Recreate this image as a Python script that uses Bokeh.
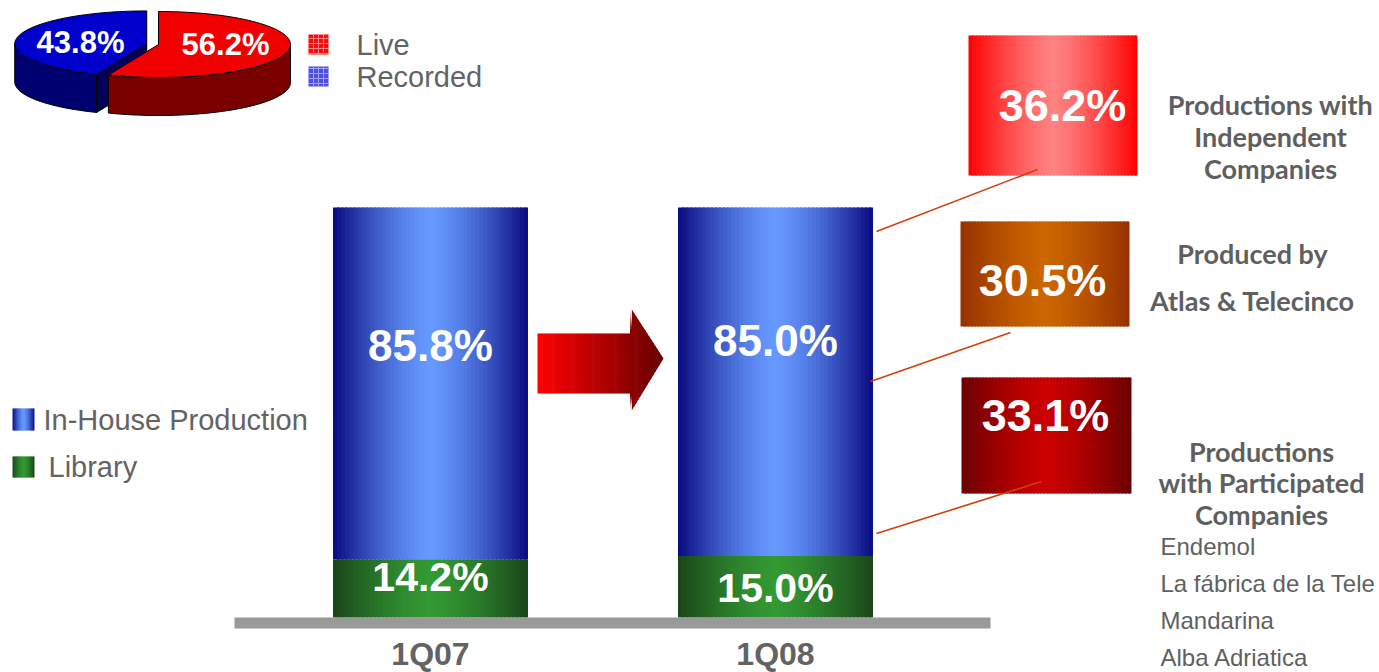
import math
from bokeh.plotting import figure
from bokeh.models import Range1d
from bokeh.core.properties import value
from bokeh.embed import file_html
from bokeh.resources import INLINE

# ---------------- data ----------------
quarters = ["1Q07", "1Q08"]
in_house = [85.8, 85.0]
library = [14.2, 15.0]
series_names = ["In-House Production", "Library"]

pie_labels = ["Live", "Recorded"]
pie_values = [56.2, 43.8]

split_values = [36.2, 30.5, 33.1]
split_titles = [["Productions with", "Independent", "Companies"],
                ["Produced by", "Atlas & Telecinco"],
                ["Productions", "with Participated", "Companies"]]
participated = ["Endemol", "La fábrica de la Tele", "Mandarina", "Alba Adriatica"]

# ---------------- layout ----------------
W, H = 1379, 672
BASE_PX, TOP_PX = 617, 207
X0_PX, STEP_PX, BAR_W_PX = 430, 345, 195
GREY = "#636363"
SANS = "Liberation Sans"
TITLE_FONT = "Lato"

p = figure(width=W, height=H, x_range=Range1d(0, W), y_range=Range1d(H, 0),
           output_backend="svg", toolbar_location=None, min_border=0,
           background_fill_color="white", border_fill_color="white")
p.axis.visible = False
p.grid.visible = False
p.outline_line_color = None

span = 100.0 * H / (BASE_PX - TOP_PX)
v0 = -(H - BASE_PX) / H * span
p.extra_y_ranges = {"bars": Range1d(v0, v0 + span)}
xs0 = -X0_PX / STEP_PX
p.extra_x_ranges = {"cat": Range1d(xs0, xs0 + W / STEP_PX)}
BAR_W = BAR_W_PX / STEP_PX


def rgb(h):
    h = h.lstrip("#")
    return tuple(int(h[i:i + 2], 16) for i in (0, 2, 4))


def lerp(c1, c2, t):
    a, b = rgb(c1), rgb(c2)
    return "#%02x%02x%02x" % tuple(int(round(a[i] + (b[i] - a[i]) * t)) for i in range(3))


def band(t, edge, center, power=1.4):
    f = 1 - abs(2 * t - 1) ** power
    return lerp(edge, center, f)


def grad_quads(left, right, bottom, top, edge, center, n=48, power=1.4, **kw):
    w = (right - left) / n
    L, R, B, T, C = [], [], [], [], []
    for k in range(n):
        L.append(left + k * w)
        R.append(left + (k + 1) * w + (w * 0.6 if k < n - 1 else 0))
        B.append(bottom)
        T.append(top)
        C.append(band((k + 0.5) / n, edge, center, power))
    p.quad(left=L, right=R, bottom=B, top=T, fill_color=C, line_color=None, **kw)


def txt(x, y, s, size, color=GREY, font=SANS, style="normal", align="center",
        baseline="middle", **kw):
    p.text(x=[x], y=[y], text=[s], text_font=value(font), text_font_size=f"{size}px",
           text_color=color, text_font_style=style, text_align=align,
           text_baseline=baseline, **kw)


# ---------------- stacked bars ----------------
BLUE_EDGE, BLUE_C = "#0a0a80", "#6699ff"
GREEN_EDGE, GREEN_C = "#1a451a", "#339933"
for i in range(len(quarters)):
    l, r = i - BAR_W / 2, i + BAR_W / 2
    grad_quads(l, r, 0, library[i], GREEN_EDGE, GREEN_C,
               x_range_name="cat", y_range_name="bars")
    grad_quads(l, r, library[i], library[i] + in_house[i], BLUE_EDGE, BLUE_C,
               x_range_name="cat", y_range_name="bars")

# baseline
p.quad(left=234, right=990, top=617, bottom=628, fill_color="#999999", line_color=None)

# bar labels
top_label_y = [66.3, 67.5]
bot_label_y = [9.8, 7.3]
for i in range(len(quarters)):
    txt(i, top_label_y[i], f"{in_house[i]:.1f}%", 44, "white", SANS, "bold",
        x_range_name="cat", y_range_name="bars")
    txt(i, bot_label_y[i], f"{library[i]:.1f}%", 41, "white", SANS, "bold",
        x_range_name="cat", y_range_name="bars")
    txt(i, 653, quarters[i], 32, GREY, SANS, "bold", x_range_name="cat")

# ---------------- arrow ----------------
AX0, AX1, ATIP = 537, 630, 663
BODY_T, BODY_B, HEAD_T, HEAD_B, TIP_Y = 333, 393, 307, 412, 358
N = 60


def arrow_extent(x):
    if x <= AX1:
        return BODY_T, BODY_B
    t = (x - AX1) / (ATIP - AX1)
    return HEAD_T + (TIP_Y - HEAD_T) * t, HEAD_B + (TIP_Y - HEAD_B) * t


axs, ays, acol = [], [], []
pts = [AX0 + (ATIP - AX0) * k / N for k in range(N + 1)]
if AX1 not in pts:
    pts = sorted(pts + [AX1])
for k in range(len(pts) - 1):
    xa, xb = pts[k], pts[k + 1]
    xb2 = min(xb + 0.6, ATIP)
    ta, ba = arrow_extent(xa)
    tb, bb = arrow_extent(xb2)
    axs.append([xa, xb2, xb2, xa])
    ays.append([ta, tb, bb, ba])
    acol.append(lerp("#ff0000", "#650000", ((xa + xb) / 2 - AX0) / (ATIP - AX0)))
p.patches(xs=axs, ys=ays, fill_color=acol, line_color=None)

# ---------------- right boxes ----------------
boxes = [(968, 1137, 35, 175), (960, 1129, 221, 326), (961, 1131, 377, 493)]
box_cols = [("#ff0000", "#ff8282"), ("#963200", "#cc6600"), ("#6a0000", "#cc0000")]
box_label_pos = [(1062, 105), (1042, 280), (1045, 415)]
for b, (e, c), (lx, ly), v in zip(boxes, box_cols, box_label_pos, split_values):
    grad_quads(b[0], b[1], b[3], b[2], e, c, n=50, power=1.3)
    txt(lx, ly, f"{v:.1f}%", 45, "white", SANS, "bold")

lines = [(876, 231, 1037, 169), (870, 381, 1010, 332), (876, 533, 1041, 481)]
p.segment(x0=[l[0] for l in lines], y0=[l[1] for l in lines],
          x1=[l[2] for l in lines], y1=[l[3] for l in lines],
          line_color="#d2400c", line_width=1.6)

title_pos = [(1270, [104, 136, 168]), (1252, [253, 300]), (1261, [451, 482, 514])]
for (cx, ys), lines_txt in zip(title_pos, split_titles):
    for y, s in zip(ys, lines_txt):
        txt(cx, y, s, 27, "#5f5f5f", TITLE_FONT, "bold")

for y, s in zip([546, 583, 620, 657], participated):
    txt(1160, y, s, 24, "#5f5f5f", SANS, "normal", align="left")

# ---------------- left legend ----------------
grad_quads(12, 34, 430, 408, BLUE_EDGE, BLUE_C, n=14)
grad_quads(12, 34, 477, 456, GREEN_EDGE, GREEN_C, n=14)
txt(43, 419, series_names[0], 29, GREY, SANS, align="left")
txt(48, 466, series_names[1], 29, GREY, SANS, align="left")

# ---------------- 3D pie ----------------
CX, CY, RX, RY, DEPTH, EXPLODE = 158, 44, 132, 33, 38, 12
tops = [("#f20000", "#7a0000"), ("#0000cc", "#000070")]
total = sum(pie_values)
start = 90.0
slices = []
for i, v in enumerate(pie_values):
    sweep = 360.0 * v / total
    if i == 0:
        a0, a1 = start - sweep, start
    else:
        a0, a1 = start, start + sweep
    slices.append((a0, a1))


def pt(a, ox, oy, dz=0):
    r = math.radians(a)
    return CX + ox + RX * math.cos(r), CY + oy - RY * math.sin(r) + dz


geo = []
for i, (a0, a1) in enumerate(slices):
    if i == 1:
        mid = math.radians((a0 + a1) / 2)
        ox, oy = EXPLODE * math.cos(mid), -EXPLODE * math.sin(mid) * RY / RX
    else:
        ox, oy = 0.0, 0.0
    geo.append((a0, a1, ox, oy))

for i in [1, 0]:
    a0, a1, ox, oy = geo[i]
    segs = []
    for base in (-360, 0, 360):
        s0, s1 = max(a0, 180 + base), min(a1, 360 + base)
        if s1 > s0:
            segs.append((s0, s1))
    for s0, s1 in segs:
        arc = [s0 + (s1 - s0) * k / 50 for k in range(51)]
        top_pts = [pt(a, ox, oy) for a in arc]
        bot_pts = [pt(a, ox, oy, DEPTH) for a in reversed(arc)]
        allp = top_pts + bot_pts
        p.patch([q[0] for q in allp], [q[1] for q in allp], fill_color=tops[i][1],
                line_color="black", line_width=1)
    if i == 1:
        c = (CX + ox, CY + oy)
        rim = pt(a1, ox, oy)
        face = [c, rim, (rim[0], rim[1] + DEPTH), (c[0], c[1] + DEPTH)]
        p.patch([q[0] for q in face], [q[1] for q in face], fill_color="#000058",
                line_color="black", line_width=1)

for i in [1, 0]:
    a0, a1, ox, oy = geo[i]
    arc = [a0 + (a1 - a0) * k / 80 for k in range(81)]
    poly = [(CX + ox, CY + oy)] + [pt(a, ox, oy) for a in arc]
    p.patch([q[0] for q in poly], [q[1] for q in poly], fill_color=tops[i][0],
            line_color="black", line_width=1)

pie_label_pos = [(225, 44), (80, 42)]
for (lx, ly), v in zip(pie_label_pos, pie_values):
    txt(lx, ly, f"{v:.1f}%", 31, "white", SANS, "bold")

# pie legend
pie_leg_cols = [("#f01010", "#ff8080"), ("#5050e0", "#a0a0ff")]
for j, (yc, lab) in enumerate(zip([44, 76], pie_labels)):
    p.quad(left=[308], right=[328], top=[yc - 10], bottom=[yc + 10],
           fill_color=pie_leg_cols[j][0], hatch_pattern="+", hatch_color=pie_leg_cols[j][1],
           hatch_scale=5, hatch_weight=1, line_color=None)
    txt(356, yc, lab, 29, GREY, SANS, align="left")

open("out.html", "w").write(file_html(p, INLINE))
